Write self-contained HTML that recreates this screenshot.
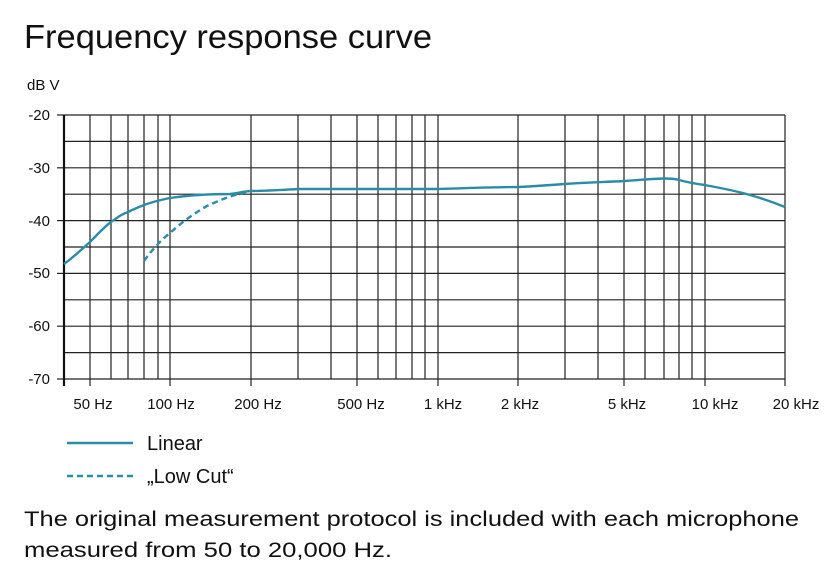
<!DOCTYPE html>
<html><head><meta charset="utf-8"><style>body{margin:0;background:#fff}svg{display:block}</style></head>
<body>
<svg width="835" height="572" xmlns="http://www.w3.org/2000/svg" font-family="Liberation Sans, DejaVu Sans, sans-serif">
<rect width="835" height="572" fill="#fff"/>
<text x="24" y="48" font-size="33" fill="#111" textLength="408" lengthAdjust="spacingAndGlyphs">Frequency response curve</text>
<text x="27" y="90" font-size="15" fill="#111">dB V</text>
<g stroke="#222" stroke-width="1.2">
<line x1="64" y1="115" x2="785" y2="115"/><line x1="64" y1="141.4" x2="785" y2="141.4"/><line x1="64" y1="167.8" x2="785" y2="167.8"/><line x1="64" y1="194.2" x2="785" y2="194.2"/><line x1="64" y1="220.6" x2="785" y2="220.6"/><line x1="64" y1="247" x2="785" y2="247"/><line x1="64" y1="273.4" x2="785" y2="273.4"/><line x1="64" y1="299.8" x2="785" y2="299.8"/><line x1="64" y1="326.2" x2="785" y2="326.2"/><line x1="64" y1="352.6" x2="785" y2="352.6"/><line x1="64" y1="379" x2="785" y2="379"/>
<line x1="90" y1="115" x2="90" y2="386"/><line x1="111" y1="115" x2="111" y2="379"/><line x1="128" y1="115" x2="128" y2="379"/><line x1="144" y1="115" x2="144" y2="379"/><line x1="158" y1="115" x2="158" y2="379"/><line x1="170" y1="115" x2="170" y2="386"/><line x1="251" y1="115" x2="251" y2="386"/><line x1="298" y1="115" x2="298" y2="379"/><line x1="331" y1="115" x2="331" y2="379"/><line x1="357" y1="115" x2="357" y2="386"/><line x1="378" y1="115" x2="378" y2="379"/><line x1="396" y1="115" x2="396" y2="379"/><line x1="412" y1="115" x2="412" y2="379"/><line x1="425" y1="115" x2="425" y2="379"/><line x1="438" y1="115" x2="438" y2="386"/><line x1="518" y1="115" x2="518" y2="386"/><line x1="565" y1="115" x2="565" y2="379"/><line x1="598" y1="115" x2="598" y2="379"/><line x1="624" y1="115" x2="624" y2="386"/><line x1="645" y1="115" x2="645" y2="379"/><line x1="664" y1="115" x2="664" y2="379"/><line x1="679" y1="115" x2="679" y2="379"/><line x1="692" y1="115" x2="692" y2="379"/><line x1="705" y1="115" x2="705" y2="386"/><line x1="785" y1="115" x2="785" y2="386"/>
<line x1="57" y1="115" x2="64" y2="115"/><line x1="57" y1="167.8" x2="64" y2="167.8"/><line x1="57" y1="220.6" x2="64" y2="220.6"/><line x1="57" y1="273.4" x2="64" y2="273.4"/><line x1="57" y1="326.2" x2="64" y2="326.2"/><line x1="57" y1="379" x2="64" y2="379"/>
</g>
<line x1="64" y1="115" x2="64" y2="386" stroke="#111" stroke-width="2.2"/>
<g font-size="15" fill="#111" text-anchor="end">
<text x="50" y="120">-20</text><text x="50" y="173">-30</text><text x="50" y="226">-40</text><text x="50" y="278">-50</text><text x="50" y="331">-60</text><text x="50" y="384">-70</text>
</g>
<g font-size="15" fill="#111" text-anchor="middle">
<text x="93" y="409">50 Hz</text><text x="171" y="409">100 Hz</text><text x="258" y="409">200 Hz</text><text x="361" y="409">500 Hz</text><text x="443" y="409">1 kHz</text><text x="520" y="409">2 kHz</text><text x="627" y="409">5 kHz</text><text x="715" y="409">10 kHz</text><text x="796" y="409">20 kHz</text>
</g>
<path d="M64,264 C75,256 83,248 90,242 C97,235 104,227 111,222 C118,217 122,214 128,212 C134,209 139,207 144,205 C152,202 160,200 170,198 C190,195 210,194 230,194 C240,193 245,191 251,191 C265,191 280,190 298,189 C350,189 430,189 438,189 C470,188 500,187 518,187 C540,186 550,185 565,184 C590,182 610,182 624,181 C640,180 655,178.5 664,178.5 C672,178.5 676,179 679,180 C690,183 697,184 705,185 C730,190 750,193 785,207" fill="none" stroke="#2b8ca5" stroke-width="2.4"/>
<path d="M144,261 C152,250 160,241 170,233 C180,224 190,216 207,206 C220,200 235,194 251,191" fill="none" stroke="#2b8ca5" stroke-width="2.4" stroke-dasharray="6,4"/>
<line x1="67" y1="443" x2="133" y2="443" stroke="#2b8ca5" stroke-width="2.4"/>
<text x="147" y="450" font-size="20" fill="#111">Linear</text>
<line x1="67" y1="476" x2="133" y2="476" stroke="#2b8ca5" stroke-width="2.4" stroke-dasharray="6,4"/>
<text x="147" y="483" font-size="20" fill="#111">„Low Cut“</text>
<text x="24" y="526" font-size="21" fill="#111" textLength="775" lengthAdjust="spacingAndGlyphs">The original measurement protocol is included with each microphone</text>
<text x="24" y="557" font-size="21" fill="#111" textLength="368" lengthAdjust="spacingAndGlyphs">measured from 50 to 20,000 Hz.</text>
</svg>
</body></html>
